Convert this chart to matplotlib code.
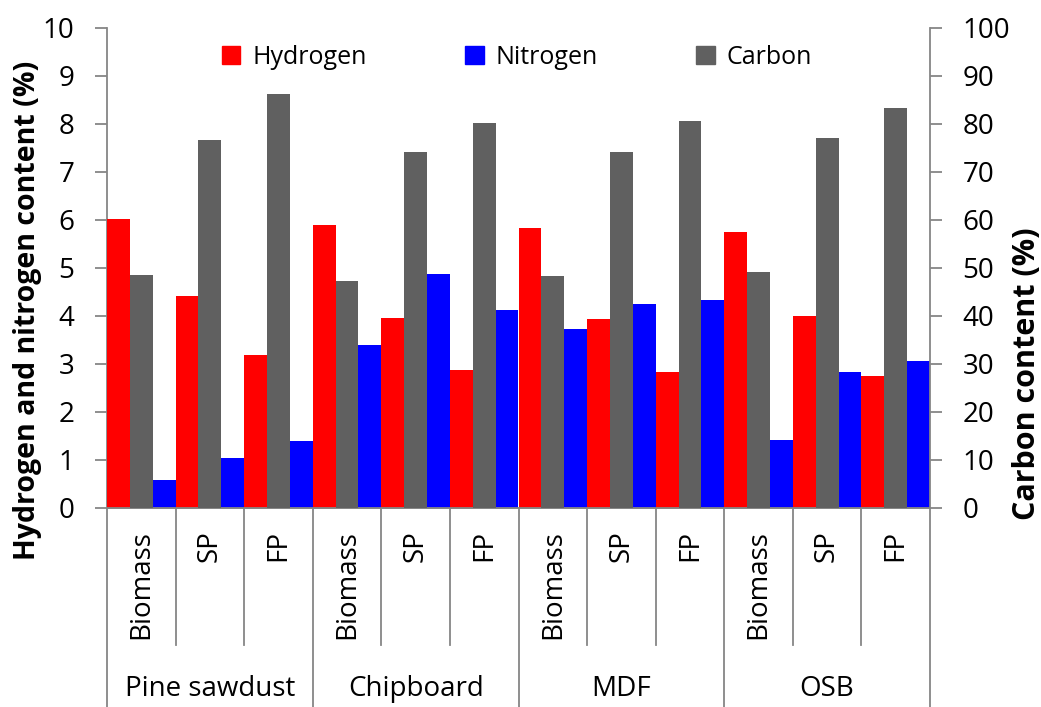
import matplotlib
matplotlib.use("Agg")
import matplotlib.pyplot as plt
import matplotlib.transforms as mtransforms
from matplotlib.patches import Patch
import numpy as np

plt.rcParams['font.family'] = ['Open Sans', 'DejaVu Sans']

groups = ["Pine sawdust", "Chipboard", "MDF", "OSB"]
subcats = ["Biomass", "SP", "FP"]
hydrogen = [6.03, 4.41, 3.18, 5.89, 3.95, 2.88, 5.84, 3.93, 2.83, 5.74, 3.99, 2.75]
nitrogen = [0.59, 1.04, 1.40, 3.39, 4.87, 4.13, 3.73, 4.25, 4.33, 1.42, 2.83, 3.06]
carbon = [48.5, 76.6, 86.2, 47.3, 74.2, 80.2, 48.3, 74.2, 80.7, 49.1, 77.0, 83.3]

RED = "#ff0000"
BLUE = "#0000ff"
GRAY = "#606060"
AX = "#868686"
FS = 20

W, H = 1041, 707
fig = plt.figure(figsize=(W / 100, H / 100), dpi=100)
ax = fig.add_axes([107 / W, 1 - 508 / H, (930 - 107) / W, (508 - 28) / H])
ax2 = ax.twinx()

n = len(hydrogen)
x = np.arange(n)
bw = 1 / 3
ax.bar(x - bw, hydrogen, width=bw, color=RED, zorder=3)
ax.bar(x + bw, nitrogen, width=bw, color=BLUE, zorder=3)
ax2.bar(x, carbon, width=bw, color=GRAY, zorder=3)

ax.set_xlim(-0.5, n - 0.5)
ax.set_ylim(0, 10)
ax2.set_ylim(0, 100)
ax.set_yticks(np.arange(0, 11, 1))
ax2.set_yticks(np.arange(0, 101, 10))
ax.set_xticks([])

for a in (ax, ax2):
    a.spines['top'].set_visible(False)
    for s in ('left', 'right', 'bottom'):
        a.spines[s].set_color(AX)
        a.spines[s].set_linewidth(1.3)
    a.tick_params(axis='y', direction='out', length=8.5, width=1.3, color=AX,
                  labelsize=FS, pad=15)
ax2.spines['left'].set_visible(False)
ax.spines['right'].set_visible(False)

fig.text(28 / W, 1 - 310 / H, "Hydrogen and nitrogen content (%)", rotation=90,
         ha='center', va='center', fontsize=20.5, fontweight='bold')
fig.text(1027 / W, 1 - 374 / H, "Carbon content (%)", rotation=90,
         ha='center', va='center', fontsize=22, fontweight='bold')

# multi-level category axis
tr = mtransforms.blended_transform_factory(ax.transData, fig.transFigure)
y_axis = 1 - 508 / H
y_inner = 1 - 645 / H
y_bot = 0.0
for i in range(n + 1):
    xe = i - 0.5
    if i % 3 == 0:
        ax.plot([xe, xe], [y_axis, y_bot], transform=tr, color=AX, lw=1.3, clip_on=False)
    else:
        ax.plot([xe, xe], [y_axis, y_inner], transform=tr, color=AX, lw=1.3, clip_on=False)
for i in range(n):
    ax.text(x[i], 1 - 530 / H, subcats[i % 3], transform=tr, rotation=90,
            ha='center', va='top', fontsize=FS)
for g, name in enumerate(groups):
    ax.text(3 * g + 1, 1 - 689 / H, name, transform=tr, ha='center', va='center', fontsize=FS)

handles = [Patch(color=RED), Patch(color=BLUE), Patch(color=GRAY)]
fig.legend(handles, ["Hydrogen", "Nitrogen", "Carbon"], loc='center',
           bbox_to_anchor=(517 / W, 1 - 57 / H), ncol=3, frameon=False, fontsize=18,
           handlelength=0.75, handleheight=0.75, handletextpad=0.5, columnspacing=3.9)

fig.savefig("out.png", dpi=100)
